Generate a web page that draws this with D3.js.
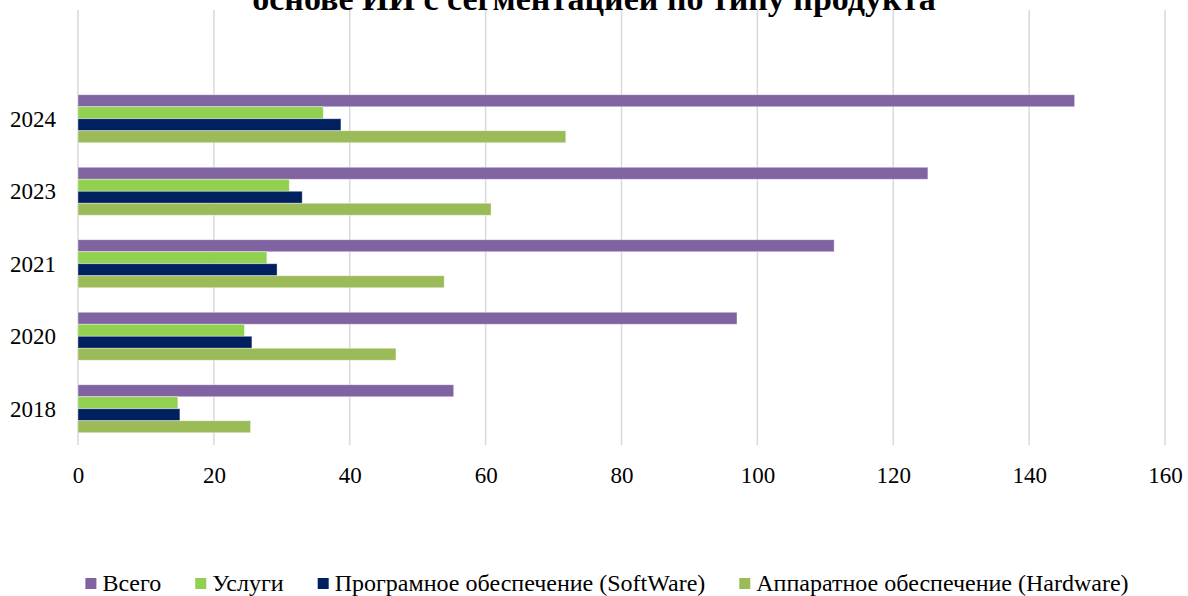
<!DOCTYPE html>
<html>
<head>
<meta charset="utf-8">
<script src="https://cdn.jsdelivr.net/npm/d3@7"></script>
<style>
  html, body { margin: 0; padding: 0; background: #fff; }
  svg { display: block; font-family: "Liberation Serif", "Times New Roman", serif; }
  svg text { font-family: "Liberation Serif", "Times New Roman", serif; }
</style>
</head>
<body>
<svg id="chart" width="1188" height="596"></svg>
<script>
// ---- data ----
const categories = ["2018", "2020", "2021", "2023", "2024"];
const seriesNames = ["Всего", "Услуги", "Програмное обеспечение (SoftWare)", "Аппаратное обеспечение (Hardware)"];
const totalValues    = [55.3, 97.0, 111.3, 125.1, 146.7];
const servicesValues = [14.7, 24.5, 27.8, 31.1, 36.1];
const softwareValues = [15.0, 25.6, 29.3, 33.0, 38.7];
const hardwareValues = [25.4, 46.8, 53.9, 60.8, 71.8];
const xTicks = [0, 20, 40, 60, 80, 100, 120, 140, 160];
const titleText = "основе ИИ с сегментацией по типу продукта";

const seriesValues = [totalValues, servicesValues, softwareValues, hardwareValues];
const colors = ["#8064A2", "#92D050", "#002060", "#9BBB59"];
const FONT = "'Liberation Serif', 'Times New Roman', serif";

// ---- layout ----
const svg = d3.select("#chart");
const plotLeft = 78, plotRight = 1165, plotTop = 10, plotBottom = 445;

const x = d3.scaleLinear().domain([0, 160]).range([plotLeft, plotRight]);
const step = (plotBottom - plotTop) / (categories.length + 1);
const y = d3.scaleBand()
  .domain(categories.slice().reverse())
  .range([plotTop + step, plotBottom])
  .paddingInner(0.338)
  .paddingOuter(0.169);
const ySub = d3.scaleBand().domain(seriesNames).range([0, y.bandwidth()]);

// gridlines
svg.append("g").selectAll("line").data(xTicks).join("line")
  .attr("x1", d => x(d)).attr("x2", d => x(d))
  .attr("y1", plotTop).attr("y2", plotBottom)
  .attr("stroke", "#d9d9d9").attr("stroke-width", 1.5);

// bars
const rows = [];
categories.forEach((c, i) => {
  seriesNames.forEach((s, j) => rows.push({ cat: c, ser: s, val: seriesValues[j][i], color: colors[j] }));
});
svg.append("g").selectAll("rect").data(rows).join("rect")
  .attr("x", x(0))
  .attr("y", d => y(d.cat) + ySub(d.ser))
  .attr("width", d => x(d.val) - x(0))
  .attr("height", ySub.bandwidth())
  .attr("fill", d => d.color)
  .attr("stroke", "#ffffff").attr("stroke-opacity", 0.5).attr("stroke-width", 0.75);

// y axis labels
const yAxis = d3.axisLeft(y).tickSize(0).tickPadding(0);
const yg = svg.append("g").attr("transform", `translate(${plotLeft - 22},0)`).call(yAxis)
  .attr("font-family", FONT);
yg.select(".domain").remove();
yg.selectAll("text").attr("font-size", 23).attr("fill", "#000")
  .style("font-family", FONT).attr("dy", "0.34em");

// x axis labels
const xAxis = d3.axisBottom(x).tickValues(xTicks).tickSize(0).tickPadding(0).tickFormat(d3.format("d"));
const xg = svg.append("g").attr("transform", `translate(0,${plotBottom})`).call(xAxis)
  .attr("font-family", FONT);
xg.select(".domain").remove();
xg.selectAll("text").attr("font-size", 23).attr("fill", "#000")
  .style("font-family", FONT)
  .attr("dy", null).attr("y", 38);

// title (partially cut off at top, as in the reference)
svg.append("text")
  .attr("x", 594).attr("y", 10)
  .attr("text-anchor", "middle")
  .attr("font-size", 34).attr("font-weight", "bold").attr("fill", "#000")
  .style("font-family", FONT)
  .text(titleText);

// legend
const legend = svg.append("g");
const items = legend.selectAll("g").data(seriesNames).join("g");
items.append("rect").attr("width", 11).attr("height", 11).attr("y", 578)
  .attr("fill", (d, i) => colors[i]);
items.append("text").attr("x", 17).attr("y", 591).attr("font-size", 24).attr("fill", "#000")
  .style("font-family", FONT)
  .text(d => d);
const widths = [];
items.each(function() { widths.push(17 + d3.select(this).select("text").node().getComputedTextLength()); });
const gap = 34;
const totalW = d3.sum(widths) + gap * (widths.length - 1);
let cx = 607 - totalW / 2;
items.each(function(d, i) {
  d3.select(this).attr("transform", `translate(${cx},0)`);
  cx += widths[i] + gap;
});
</script>
</body>
</html>
